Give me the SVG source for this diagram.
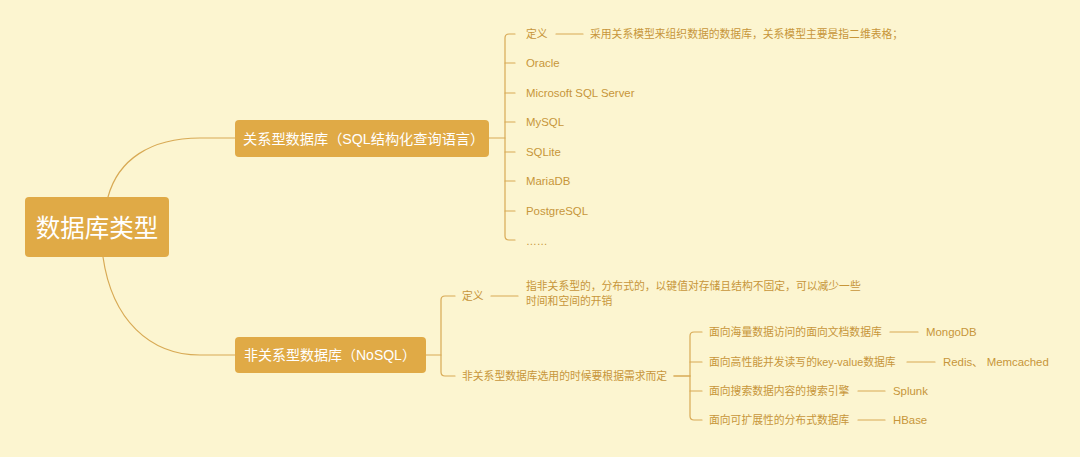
<svg xmlns="http://www.w3.org/2000/svg" width="1080" height="457" viewBox="0 0 1080 457">
<style>
.bg{fill:#FCF5D0}
.node{fill:#E0AA46}
.nt{fill:#FFFFFF;font-family:"Liberation Sans","Noto Sans CJK SC",sans-serif;dominant-baseline:central}
.lt{fill:#C7963A;font-family:"Liberation Sans","Noto Sans CJK SC",sans-serif;font-size:10.8px;dominant-baseline:central}
.la{font-size:11.4px}
.ln{fill:none;stroke:#D8AA55;stroke-width:1.2;stroke-linecap:round}
</style>
<rect class="bg" x="0" y="0" width="1080" height="457"/>
<g id="connectors">
<path class="ln" d="M108,197 C118,160 150,138 200,138 L236,138"/>
<path class="ln" d="M103,257 C112,320 150,355 200,355 L236,355"/>
<path class="ln" d="M489,138 L505,138"/>
<path class="ln" d="M515,34 L509,34 Q505,34 505,38 L505,236 Q505,240 509,240 L515,240"/>
<path class="ln" d="M505,63 L515,63 M505,93 L515,93 M505,122 L515,122 M505,152 L515,152 M505,181 L515,181 M505,211 L515,211"/>
<path class="ln" d="M556,34 L583,34"/>
<path class="ln" d="M426,355 L441,355"/>
<path class="ln" d="M455,296 L445,296 Q441,296 441,300 L441,372 Q441,376 445,376 L455,376"/>
<path class="ln" d="M491,296 L518,296"/>
<path class="ln" d="M674,376 L690,376" style="stroke-width:1.6"/>
<path class="ln" d="M702,332 L694,332 Q690,332 690,336 L690,416 Q690,420 694,420 L702,420"/>
<path class="ln" d="M690,362 L702,362 M690,391 L702,391"/>
<path class="ln" d="M890,332 L918,332"/>
<path class="ln" d="M907,362 L935,362"/>
<path class="ln" d="M858,391 L885,391"/>
<path class="ln" d="M858,420 L885,420"/>
</g>
<g id="root">
<rect class="node" x="25" y="197" width="144" height="60" rx="4"/>
<text class="nt" x="97" y="228" font-size="24.5" text-anchor="middle">数据库类型</text>
</g>
<g id="sql">
<rect class="node" x="235" y="120" width="254" height="37" rx="4"/>
<text class="nt" x="243" y="138.5" font-size="14.2">关系型数据库（SQL结构化查询语言）</text>
</g>
<g id="sql-def"><text class="lt" x="526" y="34">定义</text></g>
<g id="sql-def-text"><text class="lt" x="590" y="34">采用关系模型来组织数据的数据库，关系模型主要是指二维表格；</text></g>
<g id="oracle"><text class="lt la" x="526" y="63">Oracle</text></g>
<g id="mssql"><text class="lt la" x="526" y="93">Microsoft SQL Server</text></g>
<g id="mysql"><text class="lt la" x="526" y="122">MySQL</text></g>
<g id="sqlite"><text class="lt la" x="526" y="152">SQLite</text></g>
<g id="mariadb"><text class="lt la" x="526" y="181">MariaDB</text></g>
<g id="postgresql"><text class="lt la" x="526" y="211">PostgreSQL</text></g>
<g id="etc"><text class="lt" x="526" y="241">……</text></g>
<g id="nosql">
<rect class="node" x="235" y="337" width="191" height="36" rx="4"/>
<text class="nt" x="244" y="355" font-size="14">非关系型数据库（NoSQL）</text>
</g>
<g id="nosql-def"><text class="lt" x="462" y="296">定义</text></g>
<g id="nosql-def-text">
<text class="lt" x="526" y="286">指非关系型的，分布式的，以键值对存储且结构不固定，可以减少一些</text>
<text class="lt" x="526" y="301">时间和空间的开销</text>
</g>
<g id="nosql-choose"><text class="lt" x="462" y="376">非关系型数据库选用的时候要根据需求而定</text></g>
<g id="doc"><text class="lt" x="709" y="332">面向海量数据访问的面向文档数据库</text></g>
<g id="mongodb"><text class="lt la" x="926" y="332">MongoDB</text></g>
<g id="kv"><text class="lt" x="709" y="362">面向高性能并发读写的key-value数据库</text></g>
<g id="redis"><text class="lt la" x="943" y="362">Redis、 Memcached</text></g>
<g id="search"><text class="lt" x="709" y="391">面向搜索数据内容的搜索引擎</text></g>
<g id="splunk"><text class="lt la" x="893" y="391">Splunk</text></g>
<g id="dist"><text class="lt" x="709" y="420">面向可扩展性的分布式数据库</text></g>
<g id="hbase"><text class="lt la" x="893" y="420">HBase</text></g>
</svg>
